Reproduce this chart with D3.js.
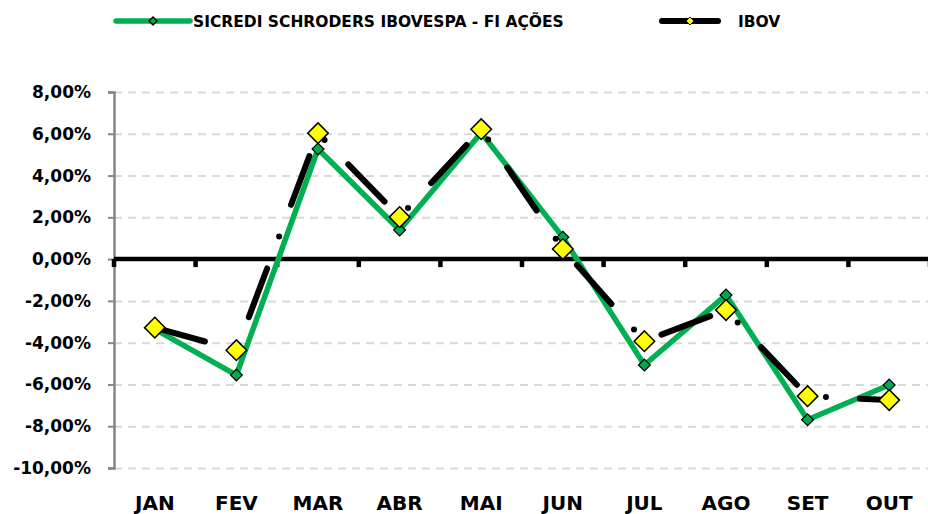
<!DOCTYPE html>
<html>
<head>
<meta charset="utf-8">
<script src="https://cdn.jsdelivr.net/npm/d3@7"></script>
<style>
body{margin:0;background:#fff;}
svg text{font-family:"DejaVu Sans",sans-serif;font-weight:bold;fill:#000;}
</style>
</head>
<body>
<div id="chart"></div>
<script>
// dados
const meses = ["JAN","FEV","MAR","ABR","MAI","JUN","JUL","AGO","SET","OUT"];
const sicredi = [-3.35,-5.55,5.27,1.39,6.05,1.05,-5.07,-1.72,-7.69,-6.03];
const ibov = [-3.28,-4.36,6.03,2.01,6.22,0.48,-3.93,-2.44,-6.56,-6.75];
const yTicks = [8,6,4,2,0,-2,-4,-6,-8,-10];
const nomes = ["SICREDI SCHRODERS IBOVESPA - FI AÇÕES","IBOV"];

const W=928,H=514;
const margin={top:92,right:-2,bottom:46,left:114};
const width=W-margin.left-margin.right, height=H-margin.top-margin.bottom;

const loc=d3.formatLocale({decimal:",",thousands:".",grouping:[3],currency:["R$",""],minus:"-"});
const fmt=d=>loc.format(".2f")(d)+"%";

let svg=d3.select("#chart").append("svg")
  .attr("width",W).attr("height",H);

let g=svg.append("g").attr("transform","translate("+margin.left+","+margin.top+")");

let x=d3.scaleBand().domain(meses).range([0,width]);
let y=d3.scaleLinear().domain([-10,8]).range([height,0]);

// grade
g.append("g")
  .call(d3.axisLeft(y).tickValues(yTicks.filter(d=>d!=0)).tickSize(-width).tickFormat(""))
  .call(a=>a.select(".domain").remove())
  .selectAll("line").attr("stroke","#d9d9d9").attr("stroke-width",2).attr("stroke-dasharray","8,6");

// eixo y
let ya=g.append("g")
  .call(d3.axisLeft(y).tickValues(yTicks).tickSize(6).tickPadding(17).tickFormat(fmt));
ya.select(".domain").attr("stroke","#868686").attr("stroke-width",2.5);
ya.selectAll(".tick line").attr("stroke","#868686").attr("stroke-width",2);
ya.selectAll("text").style("font-size","17px");

// linha do zero com marcas
g.append("line").attr("x1",0).attr("x2",width+4).attr("y1",y(0)).attr("y2",y(0))
  .attr("stroke","#000").attr("stroke-width",4.5);
g.selectAll(".cat-tick").data(meses.concat(["_fim"])).enter().append("line")
  .attr("x1",d=>d=="_fim"?width:x(d)).attr("x2",d=>d=="_fim"?width:x(d))
  .attr("y1",y(0)).attr("y2",y(0)+8)
  .attr("stroke","#000").attr("stroke-width",4.5);

// rotulos do eixo x
let xa=g.append("g").attr("transform","translate(0,"+(height+42)+")")
  .call(d3.axisBottom(x).tickSize(0).tickPadding(0));
xa.select(".domain").remove();
xa.selectAll("text").style("font-size","20px").attr("y",0).attr("dy",0);

let line=d3.line().x((d,i)=>x(meses[i])+x.bandwidth()/2).y(d=>y(d));
let diamond=d3.symbol().type(d3.symbolDiamond2);

// serie sicredi
g.append("path").datum(sicredi).attr("d",line)
  .attr("fill","none").attr("stroke","#00b050").attr("stroke-width",5.5).attr("stroke-linejoin","round");
g.selectAll(".mk1").data(sicredi).enter().append("path")
  .attr("d",diamond.size(90))
  .attr("transform",(d,i)=>"translate("+(x(meses[i])+x.bandwidth()/2)+","+y(d)+")")
  .attr("fill","#00a84f").attr("stroke","#000").attr("stroke-width",1.2);

// serie ibov
g.append("path").datum(ibov).attr("d",line)
  .attr("fill","none").attr("stroke","#000").attr("stroke-width",6)
  .attr("stroke-linecap","round").attr("stroke-dasharray","52,34,0,34");
g.selectAll(".mk2").data(ibov).enter().append("path")
  .attr("d",diamond.size(270))
  .attr("transform",(d,i)=>"translate("+(x(meses[i])+x.bandwidth()/2)+","+y(d)+")")
  .attr("fill","#ffff00").attr("stroke","#000").attr("stroke-width",1.5);

// legenda
let leg=svg.append("g");
let l1=leg.append("g").attr("transform","translate(116,21)");
l1.append("line").attr("x1",0).attr("x2",74).attr("stroke","#00b050").attr("stroke-width",5.5).attr("stroke-linecap","round");
l1.append("path").attr("d",diamond.size(40)).attr("transform","translate(37,0)")
  .attr("fill","#00b050").attr("stroke","#000").attr("stroke-width",1.5);
l1.append("text").attr("x",77).attr("y",6).style("font-size","15.5px").text(nomes[0]);

let l2=leg.append("g").attr("transform","translate(662,21)");
l2.append("line").attr("x1",0).attr("x2",56).attr("stroke","#000").attr("stroke-width",6).attr("stroke-linecap","round");
l2.append("path").attr("d",diamond.size(40)).attr("transform","translate(28,0)")
  .attr("fill","#ffff00").attr("stroke","#000").attr("stroke-width",1);
l2.append("text").attr("x",76).attr("y",6).style("font-size","15.5px").text(nomes[1]);
</script>
</body>
</html>
